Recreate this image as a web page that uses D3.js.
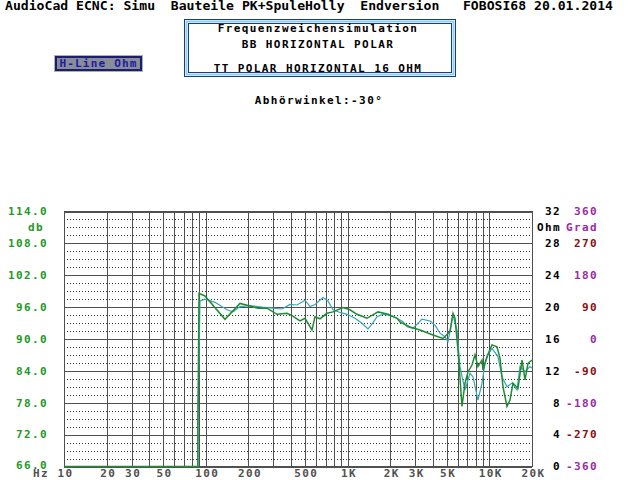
<!DOCTYPE html>
<html><head><meta charset="utf-8">
<script src="https://cdn.jsdelivr.net/npm/d3@7"></script>
<style>
body{margin:0;background:#fff;}
svg{display:block;}
text{font-family:"DejaVu Sans Mono","Liberation Mono",monospace;font-weight:bold;font-size:11px;}
</style></head>
<body>
<script>
const titleText = "AudioCad ECNC: Simu  Bauteile PK+SpuleHolly  Endversion   FOBOSI68 20.01.2014";
const boxLines = ["Frequenzweichensimulation","BB HORIZONTAL POLAR","TT POLAR HORIZONTAL 16 OHM"];
const angleText = "Abhörwinkel:-30°";
const buttonText = "H-Line Ohm";

const dbTicks = [66,72,78,84,90,96,102,108,114];
const ohmTicks = [0,4,8,12,16,20,24,28,32];
const gradTicks = [-360,-270,-180,-90,0,90,180,270,360];
const freqGrid = [10,20,30,40,50,60,70,80,90,100,200,300,400,500,600,700,800,900,1000,2000,3000,4000,5000,6000,7000,8000,9000,10000,20000];
const freqLabels = [[10,"10"],[20,"20"],[30,"30"],[50,"50"],[100,"100"],[200,"200"],[500,"500"],[1000,"1K"],[2000,"2K"],[3000,"3K"],[5000,"5K"],[10000,"10K"],[20000,"20K"]];

// series: [frequency Hz, level dB]
const tealSeries = [[10,66],[88,66],[88,74],[91,97.15],[98.7,97.5],[116.1,96.9],[141.1,95.5],[155.6,95.1],[174.3,96.1],[205.1,96.3],[249.2,96.0],[298,95.8],[344.8,95.65],[392.6,96.5],[440,96.4],[501,97.3],[543.5,96.1],[589.5,96.5],[671.2,97.8],[727.8,97.15],[789.4,95.5],[884.5,95.0],[990.9,94.65],[1128,93.9],[1264,92.95],[1394,91.9],[1487,92.8],[1613,94.2],[1778,94.65],[1992,94.5],[2232,93.9],[2460,93.25],[2626,92.3],[2894,92.0],[3350,93.75],[3814,93.4],[4138,92.6],[4487,91.1],[4868,90.4],[5110,89.5],[5543,94.5],[5914,91.7],[6209,84.8],[6735,80.4],[7305,83.55],[7669,82.9],[8318,78.5],[8877,81.7],[9320,85.4],[9784,87.0],[10440,88.25],[11510,86.7],[12280,82.9],[13320,81.0],[14450,81.7],[15670,80.4],[16450,84.8],[17850,83.85],[19360,84.8],[20000,84.55]];
const greenSeries = [[10,66],[88,66],[88,74],[89.6,98.6],[98.7,98.1],[136.6,93.7],[174.3,96.7],[198.6,96.3],[233.5,95.8],[270.3,95.8],[317.9,94.65],[374.1,94.84],[405.6,94.4],[461.9,93.4],[501,93.9],[561.4,91.7],[589.5,94.2],[639.2,93.8],[716.1,94.84],[789.4,95.1],[928.6,95.9],[1040,95.5],[1165,94.65],[1371,93.9],[1640,95.1],[1929,94.65],[2232,93.9],[2344,93.2],[2757,92.26],[3243,91.7],[4005,90.75],[4712,90.1],[5279,91.4],[5543,94.8],[5725,93.9],[6012,87.9],[6417,77.3],[6735,81.7],[7072,83.8],[7548,85.1],[7923,87.0],[8318,84.8],[8877,86.05],[9023,84.2],[9627,86.7],[10440,88.9],[11320,88.55],[11890,86.4],[12490,81.0],[13320,77.3],[13990,78.5],[14690,81.7],[15930,80.7],[17000,86.05],[17850,82.3],[18740,85.4],[20000,86.05]];

const W=640,H=480;
const svg=d3.select("body").append("svg").attr("width",W).attr("height",H);
const L=64,R=532,T=211.5,B=466.5;
const x=d3.scaleLog().domain([10,20000]).range([L,R]);
const y=d3.scaleLinear().domain([66,114]).range([B,T]);
const yOhm=d3.scaleLinear().domain([0,32]).range([B,T]);
const yGrad=d3.scaleLinear().domain([-360,360]).range([B,T]);
const gridCol="#505050";
const LS="1.4px";

// title
svg.append("text").attr("x",5).attr("y",10).attr("textLength",608).attr("lengthAdjust","spacingAndGlyphs")
  .style("font-size","12px").attr("fill","#000").style("white-space","pre").text(titleText);

// box
svg.append("rect").attr("x",184.5).attr("y",19.5).attr("width",271).attr("height",57).attr("fill","#fff").attr("stroke","#1a3a8a").attr("stroke-width",1);
svg.append("rect").attr("x",186.5).attr("y",21.5).attr("width",267).attr("height",53).attr("fill","none").attr("stroke","#8fd0ec").attr("stroke-width",2);
svg.append("rect").attr("x",188.5).attr("y",23.5).attr("width",263).attr("height",49).attr("fill","none").attr("stroke","#1a3a8a").attr("stroke-width",1);
const boxY=[28,44,68];
boxLines.forEach((t,i)=>{
  svg.append("text").attr("x",318).attr("y",boxY[i]).attr("dy","0.35em").attr("text-anchor","middle")
    .style("letter-spacing",LS).attr("fill","#000").text(t);
});

// button
svg.append("rect").attr("x",54.5).attr("y",55.5).attr("width",88).attr("height",16).attr("fill","none").attr("stroke","#b0b0b0");
svg.append("rect").attr("x",56).attr("y",57).attr("width",85).attr("height",13).attr("fill","#8a8c98").attr("stroke","#18206e").attr("stroke-width",2);
svg.append("text").attr("x",98.5).attr("y",63.5).attr("dy","0.35em").attr("text-anchor","middle")
  .style("letter-spacing","1.2px").attr("fill","#1a1aa8").text(buttonText);

// angle
svg.append("text").attr("x",319).attr("y",100).attr("dy","0.35em").attr("text-anchor","middle")
  .style("letter-spacing",LS).attr("fill","#000").text(angleText);

// grid
const g=svg.append("g");
const minor=d3.range(66,114,1.5).filter(v=>(v-66)%6!==0);
g.selectAll("line.minor").data(minor).join("line")
  .attr("x1",L).attr("x2",R).attr("y1",d=>Math.round(y(d))+0.5).attr("y2",d=>Math.round(y(d))+0.5)
  .attr("stroke","#303030").attr("stroke-dasharray","1,2");
g.selectAll("line.major").data(dbTicks).join("line")
  .attr("x1",L).attr("x2",R).attr("y1",d=>Math.round(y(d))+0.5).attr("y2",d=>Math.round(y(d))+0.5)
  .attr("stroke",gridCol);
g.selectAll("line.vert").data(freqGrid).join("line")
  .attr("x1",d=>Math.round(x(d))+0.5).attr("x2",d=>Math.round(x(d))+0.5).attr("y1",T).attr("y2",B)
  .attr("stroke",gridCol);
svg.append("rect").attr("x",L+0.5).attr("y",T).attr("width",R-L).attr("height",B-T).attr("fill","none").attr("stroke",gridCol);

// left labels
svg.selectAll("text.db").data(dbTicks).join("text").attr("x",48).attr("y",d=>y(d)-(d===66?1:0)).attr("dy","0.35em")
  .attr("text-anchor","end").style("letter-spacing",LS).attr("fill","#1f9a1f").text(d=>d.toFixed(1));
svg.append("text").attr("x",36).attr("y",227.5).attr("dy","0.35em").attr("text-anchor","middle").style("letter-spacing",LS).attr("fill","#1f9a1f").text("db");

// right labels
svg.selectAll("text.ohm").data(ohmTicks).join("text").attr("x",561).attr("y",d=>yOhm(d)).attr("dy","0.35em")
  .attr("text-anchor","end").style("letter-spacing",LS).attr("fill","#000").text(d=>d);
svg.append("text").attr("x",561).attr("y",227.5).attr("dy","0.35em").attr("text-anchor","end").style("letter-spacing",LS).attr("fill","#000").text("Ohm");
svg.selectAll("text.grad").data(gradTicks).join("text").attr("x",598).attr("y",d=>yGrad(d)).attr("dy","0.35em")
  .attr("text-anchor","end").style("letter-spacing",LS)
  .attr("fill",(d,i)=>i%2===0?"#9a2aa8":"#8a1010").text(d=>d);
svg.append("text").attr("x",598).attr("y",227.5).attr("dy","0.35em").attr("text-anchor","end").style("letter-spacing",LS).attr("fill","#9a2aa8").text("Grad");

// x labels
svg.selectAll("text.hz").data(freqLabels).join("text").attr("x",d=>x(d[0])+1.5).attr("y",477)
  .attr("text-anchor","middle").style("letter-spacing",LS).attr("fill","#505050").text(d=>d[1]);
svg.append("text").attr("x",41).attr("y",477).attr("text-anchor","middle").style("letter-spacing",LS).attr("fill","#505050").text("Hz");

// curves
const line=d3.line().x(d=>x(d[0])).y(d=>y(d[1]));
svg.append("path").datum(tealSeries).attr("d",line).attr("fill","none").attr("stroke","#35a5b5").attr("stroke-width",1.2);
svg.append("path").datum(greenSeries).attr("d",line).attr("fill","none").attr("stroke","#1e8c32").attr("stroke-width",1.5);
</script>
</body></html>
